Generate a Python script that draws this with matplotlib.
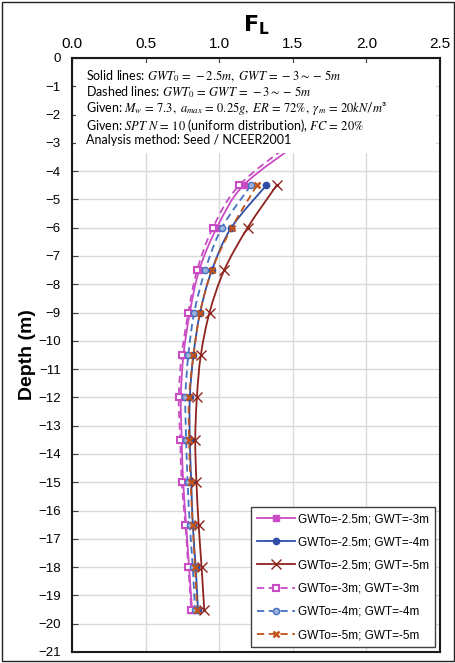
import numpy as np
import matplotlib.pyplot as plt
from matplotlib.path import Path
from matplotlib.patches import PathPatch, Rectangle
from matplotlib.lines import Line2D

plt.rcParams['font.family'] = ['Liberation Sans', 'DejaVu Sans']
plt.rcParams['mathtext.fontset'] = 'stix'

# depths of the calculation points (m)
depth = [-4.5, -6, -7.5, -9, -10.5, -12, -13.5, -15, -16.5, -18, -19.5]
depth_gwt3 = [-3] + depth

# factor of safety F_L
fl_25_3 = [1.54, 1.165, 0.984, 0.864, 0.80, 0.757, 0.739, 0.745, 0.755, 0.775, 0.795, 0.815]
fl_25_4 = [1.32, 1.082, 0.95, 0.87, 0.825, 0.80, 0.80, 0.81, 0.82, 0.84, 0.855]
fl_25_5 = [1.39, 1.193, 1.034, 0.934, 0.875, 0.848, 0.837, 0.845, 0.86, 0.88, 0.898]
fl_3_3 = [1.49, 1.136, 0.957, 0.85, 0.79, 0.745, 0.725, 0.735, 0.745, 0.77, 0.79, 0.81]
fl_4_4 = [1.215, 1.018, 0.905, 0.83, 0.79, 0.77, 0.775, 0.785, 0.80, 0.82, 0.835]
fl_5_5 = [1.256, 1.085, 0.95, 0.87, 0.825, 0.795, 0.795, 0.805, 0.82, 0.835, 0.85]

labels = ['GWTo=-2.5m; GWT=-3m', 'GWTo=-2.5m; GWT=-4m', 'GWTo=-2.5m; GWT=-5m',
          'GWTo=-3m; GWT=-3m', 'GWTo=-4m; GWT=-4m', 'GWTo=-5m; GWT=-5m']


def smooth_path(x, y):
    # Excel style smoothed line: cubic bezier through the points
    pts = np.column_stack([x, y]).astype(float)
    n = len(pts)
    verts = [pts[0]]
    codes = [Path.MOVETO]
    for i in range(n - 1):
        p0 = pts[max(i - 1, 0)]
        p1 = pts[i]
        p2 = pts[i + 1]
        p3 = pts[min(i + 2, n - 1)]
        verts += [p1 + (p2 - p0) / 6, p2 - (p3 - p1) / 6, p2]
        codes += [Path.CURVE4] * 3
    return Path(verts, codes)


fig = plt.figure(figsize=(4.56, 6.63), dpi=100)
ax = fig.add_axes([0.158, 0.0166, 0.807, 0.896])

series = [
    (fl_25_3, depth_gwt3, '#C94CC5', '-', dict(marker='s', ms=4, mfc='#C94CC5')),
    (fl_25_4, depth, '#2E4DA6', '-', dict(marker='o', ms=4.5, mfc='#2E4DA6')),
    (fl_25_5, depth, '#8E231E', '-', dict(marker='x', ms=7, mew=1.0)),
    (fl_3_3, depth_gwt3, '#C94CC5', '--', dict(marker='s', ms=5, mfc='white', mew=1.5)),
    (fl_4_4, depth, '#4472C4', '--', dict(marker='o', ms=4.5, mfc='#9FB0D8', mew=1.0)),
    (fl_5_5, depth, '#C0541A', '--', dict(marker='x', ms=4.5, mew=1.8)),
]

handles = []
for (fl, d, col, ls, mk), lab in zip(series, labels):
    dashes = (4, 2.5) if ls == '--' else None
    patch = PathPatch(smooth_path(fl, d), fill=False, edgecolor=col, lw=1.3,
                      linestyle=(0, dashes) if dashes else '-', zorder=2)
    ax.add_patch(patch)
    ax.plot(fl, d, linestyle='none', color=col, zorder=3, **mk)
    h = Line2D([], [], color=col, lw=1.3, **mk)
    if dashes:
        h.set_dashes(dashes)
    handles.append(h)

ax.set_xlim(0, 2.5)
ax.set_ylim(-21, 0)
ax.set_xticks(np.arange(0, 2.51, 0.5))
ax.set_xticklabels(['%.1f' % v for v in np.arange(0, 2.51, 0.5)])
ax.set_yticks(np.arange(-21, 1, 1))
ax.xaxis.tick_top()
ax.xaxis.set_label_position('top')
ax.tick_params(axis='x', direction='in', length=4, labelsize=11, pad=5, color='#404040')
ax.tick_params(axis='y', direction='in', length=4, labelsize=9.5, pad=8, color='#404040')
ax.grid(True, color='#D9D9D9', lw=1.0)
ax.set_axisbelow(True)
for s in ax.spines.values():
    s.set_linewidth(1.5)
    s.set_color('#1a1a1a')

ax.set_xlabel(r'$\mathbf{F_L}$', fontsize=16, labelpad=4, math_fontfamily='dejavusans')
ax.set_ylabel('Depth (m)', fontsize=14, fontweight='bold', labelpad=2)

# note box
ax.add_patch(Rectangle((0.012, 0.84), 0.978, 0.151, transform=ax.transAxes,
                       facecolor='white', edgecolor='none', zorder=5))
notes = [
    r'Solid lines: $GWT_0\, =\, -2.5m,\ GWT\, =\, -3{\sim} -\, 5m$',
    r'Dashed lines: $GWT_0\, =\, GWT\, =\, -3{\sim} -\, 5m$',
    r'Given: $M_w\, =\, 7.3,\ a_{max}\, =\, 0.25g,\ ER\, =\, 72\%,\ \gamma{}_m\, =\, 20kN$/$m$³',
    r'Given: $SPT\ N\, =\, 10$ (uniform distribution), $FC\, =\, 20\%$',
    'Analysis method: Seed / NCEER2001',
]
ax.text(0.038, 0.982, '\n'.join(notes), transform=ax.transAxes, fontsize=9.0,
        family=['Lato', 'DejaVu Sans'], va='top', ha='left', linespacing=1.0, zorder=6)

leg = ax.legend(handles, labels, loc='lower right', bbox_to_anchor=(0.986, 0.0084),
                fontsize=8.5, handlelength=3.2, handletextpad=0.25, labelspacing=0.95,
                borderpad=0.5, borderaxespad=0, fancybox=False, framealpha=1,
                edgecolor='#404040')
leg.get_frame().set_linewidth(1.0)
leg.set_zorder(7)

fig.patches.append(Rectangle((0.004, 0.003), 0.992, 0.994, transform=fig.transFigure,
                             fill=False, edgecolor='#222222', lw=1.0))

fig.savefig('out.png', dpi=100)
